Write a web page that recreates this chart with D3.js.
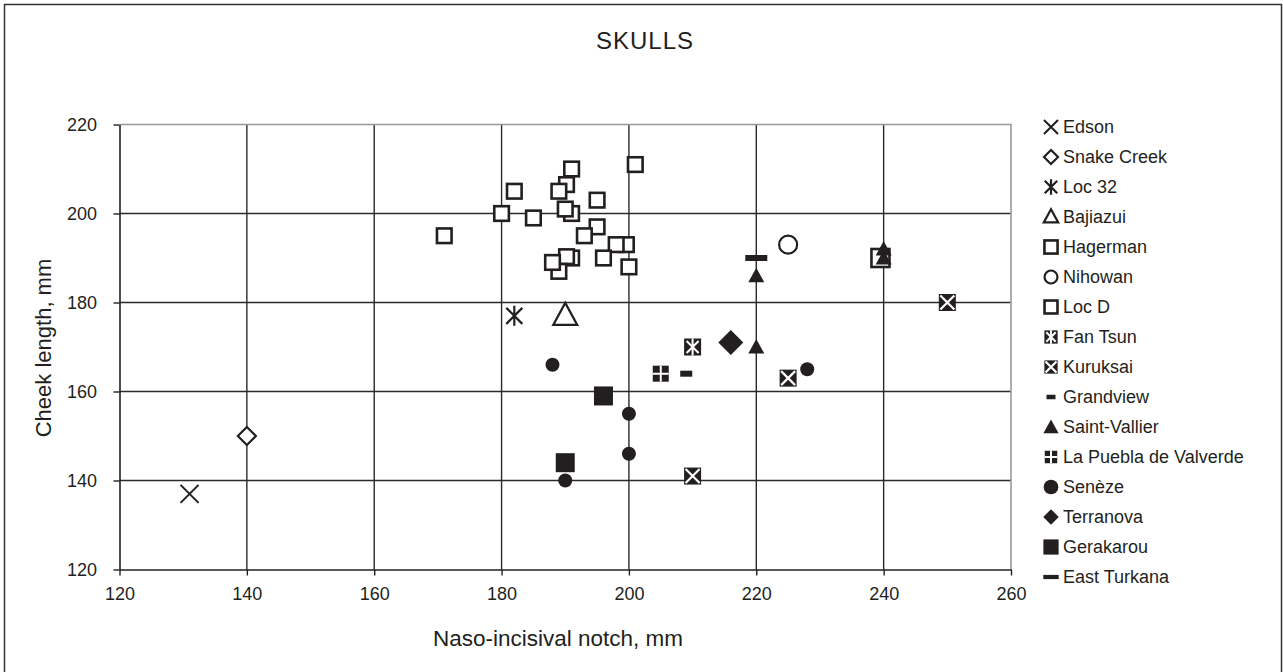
<!DOCTYPE html>
<html>
<head>
<meta charset="utf-8">
<script src="https://cdn.jsdelivr.net/npm/d3@7"></script>
<style>
  html, body { margin: 0; padding: 0; background: #fff; }
  svg { display: block; font-family: "Liberation Sans", Arial, Helvetica, sans-serif; }
</style>
</head>
<body>
<svg id="chart" width="1283" height="672"></svg>
<script>
// ---------- DATA ----------
const xTicks = [120, 140, 160, 180, 200, 220, 240, 260];
const yTicks = [120, 140, 160, 180, 200, 220];

const seriesNames = ["Edson", "Snake Creek", "Loc 32", "Bajiazui", "Hagerman", "Nihowan", "Loc D",
  "Fan Tsun", "Kuruksai", "Grandview", "Saint-Vallier", "La Puebla de Valverde", "Senèze",
  "Terranova", "Gerakarou", "East Turkana"];

const edson = [[131, 137]];
const snakeCreek = [[140, 150]];
const loc32 = [[182, 177]];
const bajiazui = [[190, 177]];
const hagerman = [[171, 195], [182, 205], [180, 200], [185, 199], [191, 210], [190.2, 206.5], [189, 205],
  [195, 203], [191, 200], [190, 201], [195, 197], [193, 195], [199.6, 193], [198, 193], [196, 190],
  [200, 188], [201, 211], [191, 190], [190.2, 190.3], [189, 187], [188, 189]];
const nihowan = [[225, 193]];
const locD = [[239.5, 190]];
const fanTsun = [[210, 170]];
const kuruksai = [[250, 180], [225, 163], [210, 141]];
const grandview = [[209, 164]];
const saintVallier = [[220, 186], [220, 170], [240, 190], [240, 192]];
const laPuebla = [[205, 164]];
const seneze = [[188, 166], [200, 155], [200, 146], [190, 140], [228, 165]];
const terranova = [[216, 171]];
const gerakarou = [[196, 159], [190, 144]];
const eastTurkana = [[220, 190]];

const seriesData = [edson, snakeCreek, loc32, bajiazui, hagerman, nihowan, locD, fanTsun, kuruksai,
  grandview, saintVallier, laPuebla, seneze, terranova, gerakarou, eastTurkana];

// ---------- STYLE / MARKERS ----------
const INK = "#231f20";
const markerKinds = ["cross", "diamondOpen", "asterisk", "triangleOpen", "squareOpen", "circleOpen", "squareOpenL",
  "fanTsun", "kuruksai", "barSmall", "triangleFilled", "puebla", "dot", "diamondFilled", "squareFilled", "barLarge"];

function drawMarker(g, kind, k) {
  // k = scale factor (1 plot, smaller for legend)
  const s = v => v * k;
  switch (kind) {
    case "cross":
      g.append("path").attr("d", `M${-s(9)},${-s(9)}L${s(9)},${s(9)}M${-s(9)},${s(9)}L${s(9)},${-s(9)}`)
        .attr("stroke", INK).attr("stroke-width", 2).attr("fill", "none");
      break;
    case "diamondOpen":
      g.append("path").attr("d", `M0,${-s(9)}L${s(9)},0L0,${s(9)}L${-s(9)},0Z`)
        .attr("stroke", INK).attr("stroke-width", 2.2).attr("fill", "#fff");
      break;
    case "asterisk":
      g.append("path").attr("d", `M${-s(8)},${-s(8)}L${s(8)},${s(8)}M${-s(8)},${s(8)}L${s(8)},${-s(8)}M0,${-s(10)}L0,${s(10)}`)
        .attr("stroke", INK).attr("stroke-width", 2.2).attr("fill", "none");
      break;
    case "triangleOpen":
      g.append("path").attr("d", `M0,${-s(13)}L${s(12)},${s(9)}L${-s(12)},${s(9)}Z`)
        .attr("stroke", INK).attr("stroke-width", 2.2).attr("fill", "#fff");
      break;
    case "squareOpen":
      g.append("rect").attr("x", -s(7.3)).attr("y", -s(7.3)).attr("width", s(14.6)).attr("height", s(14.6))
        .attr("stroke", INK).attr("stroke-width", 2.6).attr("fill", "#fff");
      break;
    case "squareOpenL":
      g.append("rect").attr("x", -s(9)).attr("y", -s(9)).attr("width", s(18)).attr("height", s(18))
        .attr("stroke", INK).attr("stroke-width", 2.6).attr("fill", "#fff");
      break;
    case "circleOpen":
      g.append("circle").attr("r", s(9)).attr("stroke", INK).attr("stroke-width", 2.2).attr("fill", "#fff");
      break;
    case "fanTsun":
      g.append("rect").attr("x", -s(8.5)).attr("y", -s(8.5)).attr("width", s(17)).attr("height", s(17)).attr("fill", INK);
      g.append("path").attr("d", `M${-s(6)},${-s(6)}L${s(6)},${s(6)}M${-s(6)},${s(6)}L${s(6)},${-s(6)}M0,${-s(8.5)}L0,${s(8.5)}`)
        .attr("stroke", "#fff").attr("stroke-width", 2).attr("fill", "none");
      break;
    case "kuruksai":
      g.append("rect").attr("x", -s(8.5)).attr("y", -s(8.5)).attr("width", s(17)).attr("height", s(17)).attr("fill", INK);
      g.append("path").attr("d", `M${-s(7)},${-s(7)}L${s(7)},${s(7)}M${-s(7)},${s(7)}L${s(7)},${-s(7)}`)
        .attr("stroke", "#fff").attr("stroke-width", 2.2).attr("fill", "none");
      break;
    case "barSmall":
      g.append("rect").attr("x", -s(6)).attr("y", -s(3)).attr("width", s(12)).attr("height", s(6)).attr("fill", INK);
      break;
    case "triangleFilled":
      g.append("path").attr("d", `M0,${-s(8)}L${s(8)},${s(6.5)}L${-s(8)},${s(6.5)}Z`).attr("fill", INK);
      break;
    case "puebla":
      g.append("rect").attr("x", -s(8)).attr("y", -s(8)).attr("width", s(16)).attr("height", s(16)).attr("fill", INK);
      g.append("path").attr("d", `M${-s(8)},0L${s(8)},0M0,${-s(8)}L0,${s(8)}`)
        .attr("stroke", "#fff").attr("stroke-width", 2).attr("fill", "none");
      break;
    case "dot":
      g.append("circle").attr("r", s(7)).attr("fill", INK);
      break;
    case "diamondFilled":
      g.append("path").attr("d", `M0,${-s(12.5)}L${s(12.5)},0L0,${s(12.5)}L${-s(12.5)},0Z`).attr("fill", INK);
      break;
    case "squareFilled":
      g.append("rect").attr("x", -s(9.5)).attr("y", -s(9.5)).attr("width", s(19)).attr("height", s(19)).attr("fill", INK);
      break;
    case "barLarge":
      g.append("rect").attr("x", -s(11)).attr("y", -s(3)).attr("width", s(22)).attr("height", s(6)).attr("fill", INK);
      break;
  }
}

// ---------- CHART ----------
const svg = d3.select("#chart");
svg.append("rect").attr("x", 0).attr("y", 0).attr("width", 1283).attr("height", 672).attr("fill", "#fff");
// outer frame
svg.append("rect").attr("x", 4.5).attr("y", 4.5).attr("width", 1277).attr("height", 690)
  .attr("fill", "none").attr("stroke", "#333").attr("stroke-width", 1.5);

const x = d3.scaleLinear().domain([120, 260]).range([119.5, 1011]);
const y = d3.scaleLinear().domain([120, 220]).range([569.5, 124.5]);

// gridlines
const grid = svg.append("g");
grid.selectAll("line.v").data(xTicks.filter(t => t > 120 && t < 260)).join("line")
  .attr("x1", d => x(d)).attr("x2", d => x(d)).attr("y1", y(220)).attr("y2", y(120))
  .attr("stroke", "#2a2a2a").attr("stroke-width", 1.4);
grid.selectAll("line.h").data(yTicks.filter(t => t > 120 && t < 220)).join("line")
  .attr("x1", x(120)).attr("x2", x(260)).attr("y1", d => y(d)).attr("y2", d => y(d))
  .attr("stroke", "#2a2a2a").attr("stroke-width", 1.4);

// plot border (top/right gray)
svg.append("path")
  .attr("d", `M${x(120)},${y(220)}L${x(260)},${y(220)}L${x(260)},${y(120)}`)
  .attr("fill", "none").attr("stroke", "#999").attr("stroke-width", 1.6);

// axes
const xAxis = svg.append("g").attr("transform", `translate(0,${y(120)})`)
  .call(d3.axisBottom(x).tickValues(xTicks).tickSize(6).tickSizeOuter(0));
const yAxis = svg.append("g").attr("transform", `translate(${x(120)},0)`)
  .call(d3.axisLeft(y).tickValues(yTicks).tickSize(6).tickSizeOuter(0));
[xAxis, yAxis].forEach(a => {
  a.select(".domain").attr("stroke", INK).attr("stroke-width", 1.6);
  a.selectAll(".tick line").attr("stroke", INK).attr("stroke-width", 1.4);
  a.selectAll(".tick text").attr("fill", INK).style("font-size", "18px")
    .style("font-family", '"Liberation Sans", Arial, sans-serif');
});
xAxis.selectAll(".tick text").attr("y", 24).attr("dy", "0.35em");
yAxis.selectAll(".tick text").attr("x", -22.5).attr("dy", "0.35em");

// titles
svg.append("text").attr("x", 645).attr("y", 49).attr("text-anchor", "middle")
  .style("font-size", "24px").style("letter-spacing", "1px").attr("fill", INK).text("SKULLS");
svg.append("text").attr("x", 558).attr("y", 646).attr("text-anchor", "middle")
  .style("font-size", "22.5px").attr("fill", INK).text("Naso-incisival notch, mm");
svg.append("text").attr("transform", "translate(51,348) rotate(-90)").attr("text-anchor", "middle")
  .style("font-size", "22px").attr("fill", INK).text("Cheek length, mm");

// points
const pts = svg.append("g");
seriesData.forEach((arr, i) => {
  pts.append("g").selectAll("g").data(arr).join("g")
    .attr("transform", d => `translate(${x(d[0])},${y(d[1])})`)
    .each(function () { drawMarker(d3.select(this), markerKinds[i], 1); });
});

// legend
const legend = svg.append("g");
seriesNames.forEach((name, i) => {
  const yy = 127 + i * 30;
  const mg = legend.append("g").attr("transform", `translate(1051,${yy})`);
  let k = 0.78;
  if (markerKinds[i] === "diamondFilled") k = 0.62;
  if (markerKinds[i] === "triangleFilled") k = 0.95;
  if (markerKinds[i] === "squareFilled") k = 0.8;
  if (markerKinds[i] === "squareOpenL") k = 0.72;
  if (markerKinds[i] === "squareOpen") k = 0.9;
  if (markerKinds[i] === "triangleOpen") k = 0.6;
  if (markerKinds[i] === "barSmall") k = 0.75;
  if (markerKinds[i] === "barLarge") k = 0.7;
  if (markerKinds[i] === "dot") k = 1.05;
  if (markerKinds[i] === "circleOpen") k = 0.72;
  drawMarker(mg, markerKinds[i], k);
  legend.append("text").attr("x", 1063).attr("y", yy).attr("dy", "0.36em")
    .style("font-size", "18px").attr("fill", INK).text(name);
});
</script>
</body>
</html>
